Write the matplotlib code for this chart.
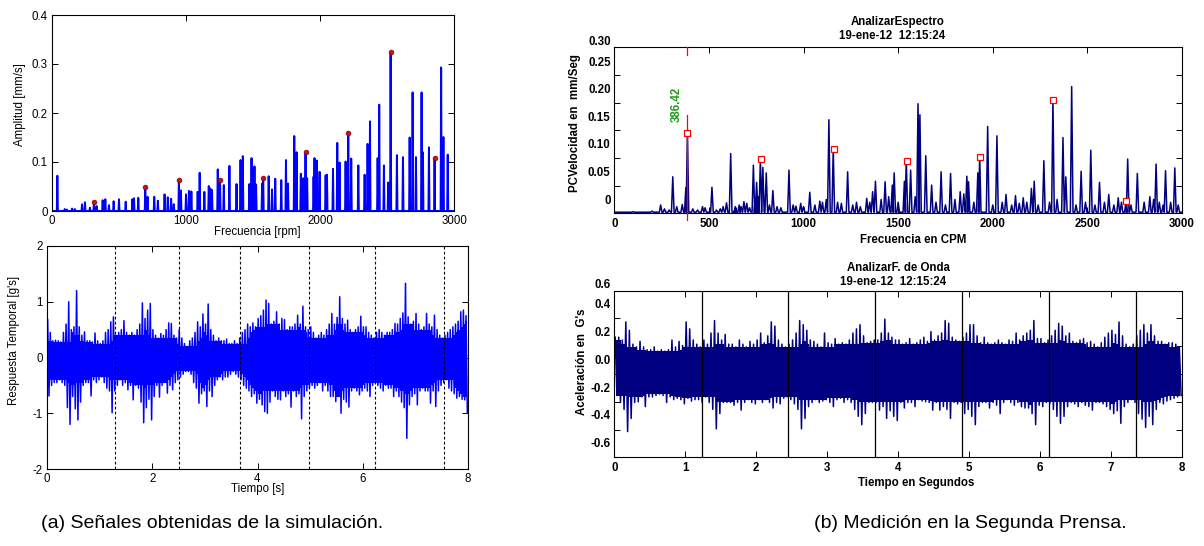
import numpy as np
import matplotlib
matplotlib.use('Agg')
import matplotlib.pyplot as plt
import matplotlib.transforms as mtransforms

plt.rcParams['font.family'] = ['Liberation Sans', 'DejaVu Sans']

# ---------------- (a) simulated spectrum ----------------
A_freq = [40, 95, 110, 150, 170, 224, 246, 283, 313, 333, 378, 398, 425, 460, 500, 550, 600, 612, 644, 696,
          713, 763, 790, 840, 864, 889, 909, 947, 962, 1000, 1022, 1040, 1087, 1102, 1137, 1170, 1182, 1194,
          1237, 1254, 1282, 1324, 1377, 1407, 1424, 1473, 1489, 1511, 1523, 1568, 1576, 1617, 1642, 1666,
          1711, 1746, 1761, 1808, 1825, 1857, 1875, 1892, 1904, 1952, 1959, 1977, 1997, 2042, 2052, 2097,
          2129, 2146, 2191, 2211, 2233, 2286, 2333, 2355, 2373, 2430, 2442, 2477, 2509, 2527, 2574, 2619,
          2669, 2691, 2716, 2758, 2768, 2813, 2855, 2904, 2921, 2953]
A_amp = [0.072, 0.004, 0.003, 0.005, 0.004, 0.0137, 0.0178, 0.0068, 0.018, 0.01, 0.022, 0.024, 0.012, 0.02,
         0.024, 0.019, 0.024, 0.026, 0.027, 0.048, 0.029, 0.029, 0.021, 0.034, 0.028, 0.025, 0.014, 0.063,
         0.042, 0.034, 0.041, 0.04, 0.039, 0.078, 0.039, 0.051, 0.046, 0.043, 0.085, 0.063, 0.053, 0.092,
         0.055, 0.104, 0.112, 0.055, 0.108, 0.091, 0.054, 0.056, 0.068, 0.071, 0.044, 0.066, 0.063, 0.104,
         0.056, 0.153, 0.12, 0.076, 0.067, 0.121, 0.067, 0.07, 0.108, 0.103, 0.08, 0.073, 0.074, 0.086,
         0.139, 0.099, 0.101, 0.16, 0.107, 0.093, 0.074, 0.137, 0.183, 0.108, 0.217, 0.093, 0.058, 0.325,
         0.114, 0.11, 0.15, 0.242, 0.11, 0.242, 0.12, 0.13, 0.108, 0.293, 0.151, 0.115]
A_dot_freq = [313, 696, 947, 1254, 1576, 1892, 2211, 2527, 2855]
A_dot_amp = [0.018, 0.048, 0.063, 0.063, 0.068, 0.121, 0.16, 0.325, 0.108]
A_xticks = [0, 1000, 2000, 3000]
A_yticks = [0, 0.1, 0.2, 0.3, 0.4]
A_yticklabels = ['0', '0.1', '0.2', '0.3', '0.4']

# ---------------- (a) simulated time response ----------------
B_step = 0.05
B_hi = [0.68, 0.45, 0.3, 0.31, 0.3, 0.28, 0.45, 0.6, 1.0, 0.5,
        0.55, 1.2, 0.55, 0.4, 0.46, 0.3, 0.3, 0.28, 0.44, 0.3,
        0.25, 0.3, 0.45, 0.5, 0.64, 0.73, 0.4, 0.45, 0.5, 0.66,
        0.45, 0.4, 0.45, 0.4, 0.5, 0.6, 0.98, 0.7, 0.85, 0.97,
        0.5, 0.4, 0.35, 0.43, 0.4, 0.5, 0.62, 0.61, 0.4, 0.35,
        0.5, 0.35, 0.25, 0.2, 0.3, 0.35, 0.45, 0.64, 0.55, 0.78,
        0.6, 0.96, 0.5, 0.4, 0.3, 0.35, 0.3, 0.3, 0.33, 0.25,
        0.25, 0.3, 0.25, 0.35, 0.45, 0.5, 0.6, 0.55, 0.62, 0.55,
        0.7, 0.75, 0.85, 1.03, 0.97, 0.6, 0.65, 0.82, 0.6, 0.7,
        0.68, 0.5, 0.55, 0.55, 0.6, 0.76, 0.6, 0.92, 0.55, 0.5,
        0.55, 0.45, 0.35, 0.4, 0.45, 0.4, 0.5, 0.6, 0.79, 0.6,
        0.72, 1.09, 0.7, 0.6, 0.67, 0.5, 0.45, 0.5, 0.55, 0.74,
        0.55, 0.55, 0.45, 0.4, 0.35, 0.45, 0.5, 0.45, 0.4, 0.45,
        0.45, 0.5, 0.61, 0.6, 0.7, 0.8, 1.33, 0.73, 0.6, 0.65,
        0.79, 0.6, 0.5, 0.55, 0.79, 0.6, 0.55, 0.76, 0.5, 0.4,
        0.35, 0.4, 0.45, 0.5, 0.55, 0.6, 0.65, 0.82, 0.85, 0.75]
B_lo = [-0.69, -0.5, -0.45, -0.45, -0.4, -0.45, -0.5, -0.9, -1.2, -0.7,
        -0.92, -1.12, -0.8, -0.5, -0.45, -0.45, -0.69, -0.4, -0.45, -0.4,
        -0.35, -0.45, -0.55, -0.6, -0.99, -0.6, -0.5, -0.4, -0.5, -0.45,
        -0.58, -0.5, -0.76, -0.5, -0.55, -0.8, -1.17, -0.9, -0.75, -1.12,
        -0.7, -0.5, -0.71, -0.5, -0.45, -0.64, -0.5, -0.58, -0.45, -0.4,
        -0.35, -0.3, -0.25, -0.25, -0.3, -0.45, -0.55, -0.82, -0.65, -0.6,
        -0.88, -0.6, -0.7, -0.5, -0.4, -0.35, -0.4, -0.35, -0.35, -0.3,
        -0.25, -0.3, -0.35, -0.4, -0.5, -0.55, -0.6, -0.7, -0.65, -0.82,
        -0.75, -0.85, -0.97, -1.0, -0.8, -0.6, -0.7, -0.75, -0.76, -0.6,
        -0.7, -0.65, -0.89, -0.6, -0.7, -0.65, -1.1, -0.7, -0.6, -0.55,
        -0.5, -0.55, -0.5, -0.45, -0.6, -0.5, -0.6, -0.7, -0.7, -0.79,
        -0.7, -1.0, -0.75, -0.8, -0.89, -0.6, -0.55, -0.6, -0.67, -0.6,
        -0.55, -0.6, -0.7, -0.5, -0.45, -0.5, -0.55, -0.6, -0.5, -0.55,
        -0.55, -0.7, -0.6, -0.7, -0.8, -0.9, -1.45, -0.85, -0.7, -0.65,
        -0.85, -0.6, -0.55, -0.6, -0.6, -0.82, -0.6, -0.88, -0.6, -0.5,
        -0.45, -0.4, -0.55, -0.6, -0.65, -0.73, -0.7, -0.75, -0.76, -1.0]
B_marks = [1.30, 2.50, 3.66, 4.98, 6.23, 7.55]
B_xticks = [0, 2, 4, 6, 8]
B_yticks = [-2, -1, 0, 1, 2]

# ---------------- (b) measured spectrum ----------------
C_freq = [245, 309, 359, 378, 386.42, 466, 516, 593, 615, 640, 685, 735, 752, 772, 785, 803, 838, 923, 1033,
          1086, 1134, 1157, 1233, 1334, 1365, 1380, 1431, 1469, 1479, 1533, 1543, 1566, 1605, 1615, 1646,
          1677, 1727, 1777, 1828, 1847, 1863, 1872, 1921, 1931, 1973, 2022, 2070, 2120, 2161, 2204, 2219,
          2270, 2318, 2371, 2386, 2417, 2467, 2518, 2564, 2613, 2663, 2704, 2713, 2764, 2863, 2913, 2962]
C_amp = [0.015, 0.066, 0.016, 0.046, 0.146, 0.012, 0.047, 0.019, 0.108, 0.012, 0.021, 0.087, 0.056, 0.098,
         0.083, 0.073, 0.041, 0.078, 0.038, 0.022, 0.169, 0.116, 0.075, 0.027, 0.039, 0.058, 0.057, 0.051,
         0.073, 0.058, 0.095, 0.078, 0.198, 0.178, 0.104, 0.051, 0.075, 0.072, 0.039, 0.035, 0.067, 0.057,
         0.073, 0.102, 0.157, 0.14, 0.034, 0.032, 0.028, 0.045, 0.058, 0.095, 0.205, 0.137, 0.066, 0.229,
         0.076, 0.114, 0.056, 0.034, 0.028, 0.022, 0.098, 0.072, 0.089, 0.077, 0.082]
C_floor_freq = [100, 150, 200, 265, 290, 330, 415, 440, 480, 540, 560, 575, 640, 660, 670, 700, 715, 745,
                760, 820, 860, 880, 945, 960, 985, 1000, 1060, 1100, 1120, 1180, 1200, 1260, 1280, 1300,
                1350, 1410, 1450, 1500, 1590, 1700, 1750, 1800, 1900, 2000, 2050, 2100, 2140, 2180, 2240,
                2300, 2340, 2440, 2490, 2540, 2590, 2640, 2680, 2730, 2800, 2830, 2850, 2880, 2900, 2940, 2980]
C_floor_amp = [0.003, 0.002, 0.004, 0.008, 0.006, 0.012, 0.008, 0.006, 0.01, 0.006, 0.008, 0.012, 0.01,
               0.015, 0.012, 0.018, 0.01, 0.025, 0.03, 0.015, 0.012, 0.01, 0.015, 0.013, 0.018, 0.012, 0.015,
               0.02, 0.025, 0.02, 0.018, 0.015, 0.02, 0.012, 0.02, 0.025, 0.03, 0.02, 0.03, 0.02, 0.015,
               0.025, 0.02, 0.015, 0.02, 0.015, 0.018, 0.02, 0.015, 0.02, 0.025, 0.015, 0.02, 0.015, 0.02,
               0.015, 0.02, 0.015, 0.02, 0.03, 0.025, 0.02, 0.015, 0.02, 0.015]
C_sq_freq = [386.42, 772.84, 1159.26, 1545.68, 1932.10, 2318.52, 2704.94]
C_sq_amp = [0.146, 0.098, 0.116, 0.095, 0.102, 0.205, 0.022]
C_cursor = 386.42
C_xticks = [0, 500, 1000, 1500, 2000, 2500, 3000]
C_yticklabels = ['0', '0.05', '0.10', '0.15', '0.20', '0.25', '0.30']
C_ylabel_pos = [0.022, 0.073, 0.123, 0.173, 0.222, 0.272, 0.309]

# ---------------- (b) measured waveform ----------------
D_step = 0.05
D_hi = [0.17, 0.17, 0.15, 0.28, 0.22, 0.12, 0.1, 0.14, 0.1, 0.08,
        0.08, 0.1, 0.07, 0.08, 0.07, 0.08, 0.15, 0.1, 0.14, 0.11,
        0.28, 0.23, 0.15, 0.12, 0.1, 0.15, 0.12, 0.2, 0.29, 0.2,
        0.15, 0.19, 0.12, 0.12, 0.1, 0.15, 0.12, 0.1, 0.14, 0.12,
        0.15, 0.2, 0.13, 0.18, 0.28, 0.25, 0.15, 0.12, 0.1, 0.12,
        0.15, 0.2, 0.29, 0.26, 0.22, 0.15, 0.14, 0.12, 0.1, 0.2,
        0.13, 0.12, 0.16, 0.12, 0.13, 0.12, 0.15, 0.2, 0.23, 0.26,
        0.18, 0.13, 0.14, 0.15, 0.15, 0.2, 0.3, 0.2, 0.17, 0.15,
        0.15, 0.12, 0.13, 0.16, 0.12, 0.13, 0.15, 0.17, 0.14, 0.21,
        0.15, 0.18, 0.2, 0.29, 0.27, 0.17, 0.15, 0.14, 0.17, 0.2,
        0.26, 0.26, 0.18, 0.13, 0.17, 0.13, 0.12, 0.13, 0.15, 0.13,
        0.12, 0.15, 0.14, 0.2, 0.15, 0.18, 0.2, 0.22, 0.29, 0.16,
        0.16, 0.13, 0.15, 0.18, 0.22, 0.27, 0.25, 0.18, 0.2, 0.14,
        0.13, 0.15, 0.16, 0.13, 0.14, 0.12, 0.1, 0.13, 0.17, 0.2,
        0.22, 0.19, 0.28, 0.18, 0.12, 0.1, 0.12, 0.18, 0.22, 0.26,
        0.2, 0.26, 0.18, 0.14, 0.14, 0.12, 0.13, 0.13, 0.12, 0.1]
D_lo = [-0.25, -0.3, -0.35, -0.51, -0.415, -0.3, -0.295, -0.26, -0.33, -0.26,
        -0.26, -0.25, -0.24, -0.25, -0.3, -0.26, -0.28, -0.27, -0.28, -0.31,
        -0.27, -0.29, -0.28, -0.28, -0.3, -0.26, -0.3, -0.35, -0.49, -0.38,
        -0.3, -0.3, -0.3, -0.32, -0.3, -0.355, -0.3, -0.28, -0.3, -0.31,
        -0.28, -0.3, -0.28, -0.3, -0.34, -0.3, -0.31, -0.27, -0.26, -0.28,
        -0.31, -0.35, -0.49, -0.415, -0.33, -0.3, -0.28, -0.3, -0.29, -0.28,
        -0.3, -0.33, -0.28, -0.27, -0.3, -0.28, -0.3, -0.35, -0.4, -0.46,
        -0.38, -0.3, -0.3, -0.3, -0.355, -0.33, -0.415, -0.36, -0.4, -0.43,
        -0.3, -0.34, -0.3, -0.3, -0.33, -0.28, -0.29, -0.295, -0.3, -0.355,
        -0.3, -0.355, -0.33, -0.35, -0.415, -0.3, -0.31, -0.3, -0.38, -0.35,
        -0.4, -0.46, -0.33, -0.3, -0.3, -0.34, -0.3, -0.32, -0.38, -0.3,
        -0.28, -0.3, -0.32, -0.3, -0.33, -0.34, -0.34, -0.38, -0.46, -0.32,
        -0.33, -0.3, -0.31, -0.35, -0.4, -0.45, -0.4, -0.33, -0.3, -0.31,
        -0.33, -0.3, -0.32, -0.33, -0.355, -0.3, -0.3, -0.31, -0.33, -0.35,
        -0.38, -0.36, -0.45, -0.33, -0.3, -0.28, -0.3, -0.38, -0.42, -0.48,
        -0.4, -0.46, -0.35, -0.3, -0.31, -0.29, -0.28, -0.27, -0.26, -0.25]
D_marks = [1.23, 2.45, 3.67, 4.90, 6.13, 7.35]
D_xticks = [0, 1, 2, 3, 4, 5, 6, 7, 8]
D_yticklabels = ['0.6', '0.4', '0.2', '0.0', '-0.2', '-0.4', '-0.6']
D_ylabel_pos = [0.546, 0.4, 0.2, 0.0, -0.2, -0.4, -0.6]

assert len(A_freq) == len(A_amp) and len(C_freq) == len(C_amp) and len(C_floor_freq) == len(C_floor_amp)
assert len(B_hi) == len(B_lo) == 160 and len(D_hi) == len(D_lo) == 160

W, H = 1204, 546
fig = plt.figure(figsize=(W / 100, H / 100), dpi=100)


def ax_px(l, t, r, b):
    return fig.add_axes([l / W, 1 - b / H, (r - l) / W, (b - t) / H])


def ftext(x, y, s, **kw):
    fig.text(x / W, 1 - y / H, s, **kw)


def peak_line(freqs, amps, half, base, lo, hi):
    order = np.argsort(freqs)
    xs, ys = [lo], [base]
    for i in order:
        xs += [freqs[i] - half, freqs[i], freqs[i] + half]
        ys += [base, amps[i], base]
    xs.append(hi)
    ys.append(base)
    return np.array(xs), np.array(ys)


def draw_signal(ax, hi, lo, step, color, lw, reach=3):
    hi = np.asarray(hi, float)
    lo = np.asarray(lo, float)
    n = len(hi)
    k = np.arange(n)
    # dense core: the part of the range shared by the neighbouring windows
    core_hi = np.array([hi[max(0, i - reach):i + reach + 1].min() for i in k])
    core_lo = np.array([lo[max(0, i - reach):i + reach + 1].max() for i in k])
    tc = (k + 0.5) * step
    ax.fill_between(tc, core_lo, core_hi, color=color, lw=0, step='mid')
    t = np.empty(2 * n)
    y = np.empty(2 * n)
    t[0::2] = (k + 0.25) * step
    t[1::2] = (k + 0.75) * step
    y[0::2] = hi
    y[1::2] = lo
    ax.plot(t, y, color=color, lw=lw)


def style(ax, lw=0.8):
    ax.tick_params(direction='in', top=True, right=True, length=4, width=0.7, colors='black')
    for s in ax.spines.values():
        s.set_linewidth(lw)
        s.set_color('black')


FS = 8.3
BLUE = '#0000ff'
NAVY = '#000080'

# ---- A ----
axA = ax_px(52, 15, 454, 211)
x, y = peak_line(A_freq, A_amp, 4, 0.0, 0, 3000)
axA.plot(x, y, color=BLUE, lw=1.4)
axA.plot(A_dot_freq, A_dot_amp, 'o', ms=3.4, color='#c0141e', mec='#8b0000', mew=0.5, zorder=4)
axA.set_xlim(0, 3000)
axA.set_ylim(0, 0.4)
axA.set_xticks(A_xticks)
axA.set_xticklabels([str(v) for v in A_xticks], fontsize=FS)
axA.set_yticks(A_yticks)
axA.set_yticklabels(A_yticklabels, fontsize=FS)
style(axA)
axA.tick_params(pad=3)
ftext(257, 232, 'Frecuencia [rpm]', ha='center', va='center', fontsize=FS)
ftext(20, 105, 'Amplitud [mm/s]', ha='center', va='center', rotation=90, fontsize=FS)

# ---- B ----
axB = ax_px(47, 246, 468, 469)
draw_signal(axB, B_hi, B_lo, B_step, BLUE, 1.1)
for m in B_marks:
    axB.axvline(m, color='black', lw=0.8, ls=(0, (2.5, 2)), zorder=3)
axB.set_xlim(0, 8)
axB.set_ylim(-2, 2)
axB.set_xticks(B_xticks)
axB.set_xticklabels([str(v) for v in B_xticks], fontsize=FS)
axB.set_yticks(B_yticks)
axB.set_yticklabels([str(v) for v in B_yticks], fontsize=FS)
style(axB)
axB.tick_params(pad=3)
ftext(258, 489, 'Tiempo [s]', ha='center', va='center', fontsize=FS)
ftext(14, 340, "Respuesta Temporal [g's]", ha='center', va='center', rotation=90, fontsize=FS)

# ---- C ----
axC = ax_px(614.3, 47.3, 1182, 213.3)
x, y = peak_line(list(C_freq) + list(C_floor_freq), list(C_amp) + list(C_floor_amp), 7, 0.002, 0, 3000)
axC.plot(x, y, color=NAVY, lw=1.1)
axC.plot([C_cursor, C_cursor], [-0.012, 0.178], color='red', lw=0.9, clip_on=False, zorder=3)
axC.plot([C_cursor, C_cursor], [0.286, 0.30], color='red', lw=0.9, clip_on=False, zorder=3)
axC.plot(C_sq_freq, C_sq_amp, 's', ms=5, mfc='white', mec='red', mew=0.9, zorder=4)
axC.text(330, 0.196, '%.2f' % C_cursor, rotation=90, color='#1a9a1a', fontweight='bold',
         fontsize=FS, ha='center', va='center')
axC.set_xlim(0, 3000)
axC.set_ylim(0, 0.30)
axC.set_xticks(C_xticks)
axC.set_xticklabels([str(v) for v in C_xticks], fontsize=FS, fontweight='bold')
axC.set_yticks(np.arange(0, 0.301, 0.05))
axC.set_yticklabels([])
style(axC)
trC = mtransforms.blended_transform_factory(axC.transAxes, axC.transData)
for lab, pos in zip(C_yticklabels, C_ylabel_pos):
    axC.text(-3.6 / 567.7, pos, lab, transform=trC, ha='right', va='center',
             fontsize=FS, fontweight='bold', clip_on=False)
ftext(898, 22, 'AnalizarEspectro', ha='center', va='center', fontsize=FS, fontweight='bold')
ftext(892, 36, '19-ene-12  12:15:24', ha='center', va='center', fontsize=FS, fontweight='bold')
ftext(913, 240, 'Frecuencia en CPM', ha='center', va='center', fontsize=FS, fontweight='bold')
ftext(575, 123, 'PCVelocidad en  mm/Seg', ha='center', va='center', rotation=90,
      fontsize=FS, fontweight='bold')

# ---- D ----
axD = ax_px(614.3, 290.7, 1182, 457.3)
draw_signal(axD, D_hi, D_lo, D_step, NAVY, 1.1)
for m in D_marks:
    axD.axvline(m, color='black', lw=0.9, zorder=3)
axD.set_xlim(0, 8)
axD.set_ylim(-0.695, 0.505)
axD.set_xticks(D_xticks)
axD.set_xticklabels([str(v) for v in D_xticks], fontsize=FS, fontweight='bold')
axD.set_yticks(np.arange(-0.695, 0.506, 0.2))
axD.set_yticklabels([])
style(axD)
trD = mtransforms.blended_transform_factory(axD.transAxes, axD.transData)
for lab, pos in zip(D_yticklabels, D_ylabel_pos):
    axD.text(-3.6 / 567.7, pos, lab, transform=trD, ha='right', va='center',
             fontsize=FS, fontweight='bold', clip_on=False)
ftext(898, 268, 'AnalizarF. de Onda', ha='center', va='center', fontsize=FS, fontweight='bold')
ftext(893, 282, '19-ene-12  12:15:24', ha='center', va='center', fontsize=FS, fontweight='bold')
ftext(916, 483, 'Tiempo en Segundos', ha='center', va='center', fontsize=FS, fontweight='bold')
ftext(582, 362, "Aceleración en  G's", ha='center', va='center', rotation=90,
      fontsize=FS, fontweight='bold')

# ---- captions ----
ftext(212, 524, '(a) Señales obtenidas de la simulación.', ha='center', va='center', fontsize=14)
ftext(970, 524, '(b) Medición en la Segunda Prensa.', ha='center', va='center', fontsize=14)

fig.savefig('out.png', dpi=100)
